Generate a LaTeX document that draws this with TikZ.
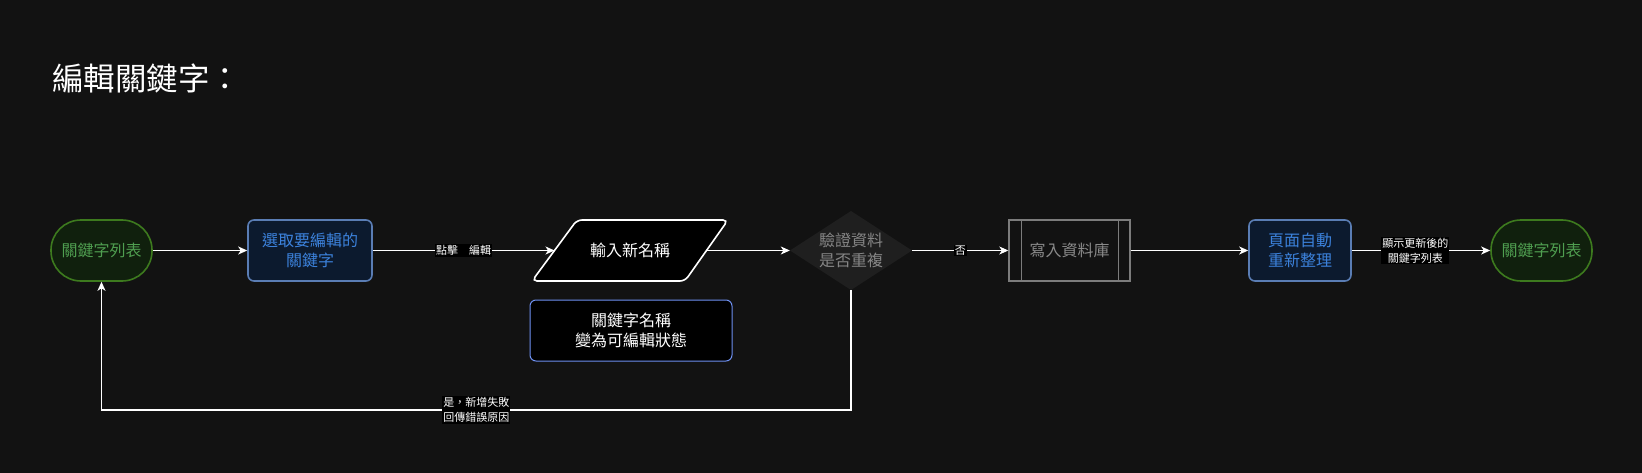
\documentclass[tikz,border=0pt]{standalone}
\usepackage{fontspec}
\setmainfont{Noto Sans CJK TC}
\usetikzlibrary{arrows.meta}
\definecolor{bg}{HTML}{121212}
\definecolor{termfill}{HTML}{10200D}
\definecolor{termdraw}{HTML}{3D7A1E}
\definecolor{termtext}{HTML}{4F9E50}
\definecolor{bluefill}{HTML}{0C1A2E}
\definecolor{bluedraw}{HTML}{5A7DB4}
\definecolor{bluetext}{HTML}{3C82DC}
\definecolor{notedraw}{HTML}{6E90F0}
\definecolor{diafill}{HTML}{1F1F1F}
\definecolor{greytext}{HTML}{858585}
\definecolor{procdraw}{HTML}{7C7C7C}
\definecolor{proctext}{HTML}{8A8A8A}
\begin{document}
\begin{tikzpicture}[x=1pt,y=-1pt,
  every node/.style={inner sep=0pt, align=center},
  txt/.style={font=\fontsize{16}{20}\selectfont},
  term/.style={txt, draw=termdraw, fill=termfill, text=termtext, line width=1.6pt,
    rounded corners=30pt, minimum width=101pt, minimum height=61pt},
  bluebox/.style={txt, draw=bluedraw, fill=bluefill, text=bluetext, line width=1.6pt,
    rounded corners=6pt, minimum width=102pt, minimum height=61pt},
  arr/.style={draw=white, line width=1.1pt, -{Stealth[length=9pt,width=8pt,inset=2.5pt]}},
  lbl/.style={fill=black, text=white, font=\fontsize{11}{15}\selectfont, inner sep=1pt}
]
\fill[bg] (0,0) rectangle (1642,473);
\useasboundingbox (0,0) rectangle (1642,473);

% title
\node[anchor=west, text=white, font=\fontsize{31.5}{36}\selectfont] (title) at (52,78) {編輯關鍵字：};

% nodes
\node[term] (t1) at (101.5,250.5) {關鍵字列表};
\node[bluebox, minimum width=124pt] (sel) at (310,250.5) {選取要編輯的\\關鍵字};

% parallelogram
\draw[white, fill=black, line width=1.6pt, rounded corners=5pt]
  (577,220) -- (728,220) -- (685,281) -- (532,281) -- cycle;
\node[txt, text=white] (inp) at (630,250.5) {輸入新名稱};
\coordinate (inL) at (554.5,250.5);
\coordinate (inR) at (706.5,250.5);

\node[txt, draw=notedraw, fill=black, text=white, line width=1pt, rounded corners=6pt,
  minimum width=202pt, minimum height=61pt] (note) at (631,330.5) {關鍵字名稱\\變為可編輯狀態};

% diamond
\fill[diafill] (851,211) -- (912,250.5) -- (851,290) -- (790,250.5) -- cycle;
\node[txt, text=greytext, minimum width=122pt, minimum height=79pt] (dia) at (851,250.5) {驗證資料\\是否重複};

% process box
\node[txt, draw=procdraw, text=proctext, line width=1.4pt, minimum width=121pt, minimum height=61pt] (db) at (1069.5,250.5) {寫入資料庫};
\draw[procdraw, line width=1.4pt] ([xshift=13pt]db.north west) -- ([xshift=13pt]db.south west);
\draw[procdraw, line width=1.4pt] ([xshift=-12pt]db.north east) -- ([xshift=-12pt]db.south east);

\node[bluebox] (auto) at (1300,250.5) {頁面自動\\重新整理};
\node[term] (t2) at (1541.5,250.5) {關鍵字列表};

% edges
\draw[arr] (t1) -- (sel);
\draw[arr] (sel) -- node[lbl] {點擊　編輯} (inL);
\draw[arr] (inR) -- (dia.west);
\draw[arr] (dia.east) -- node[lbl] {否} (db);
\draw[arr] (db) -- (auto);
\draw[arr] (auto) -- node[lbl, pos=0.46] {顯示更新後的\\關鍵字列表} (t2);
\coordinate (fb) at (851,410);
\draw[arr] (dia.south) -- (fb) -| node[lbl, pos=0.25] {是，新增失敗\\回傳錯誤原因} (t1.south);
\end{tikzpicture}
\end{document}
